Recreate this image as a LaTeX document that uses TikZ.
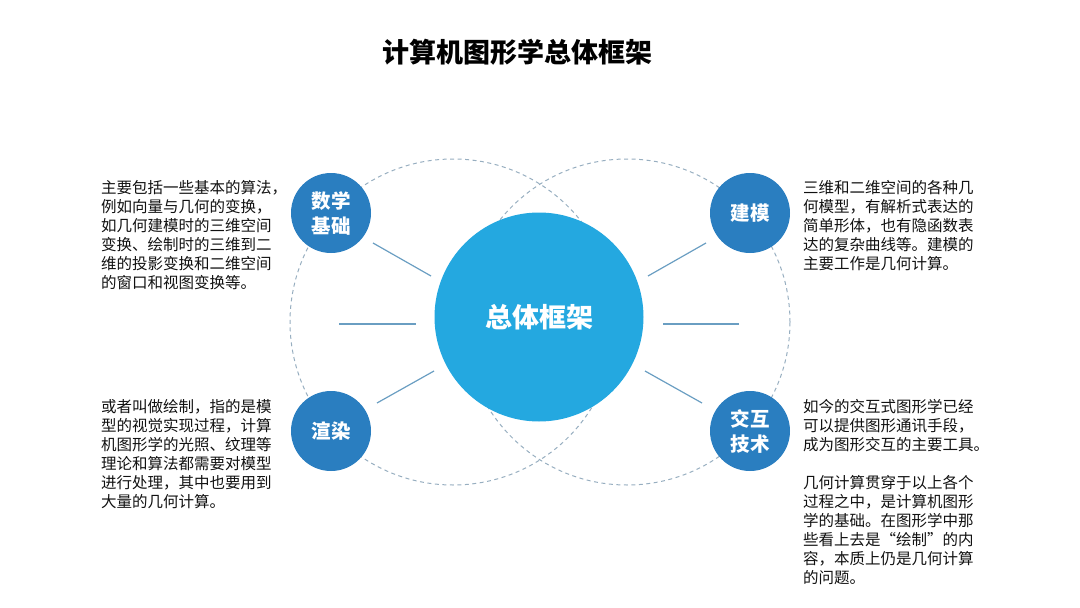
\documentclass[tikz,border=0pt]{standalone}
\usepackage{fontspec}
\setmainfont{Noto Sans CJK SC}
\usepackage{tikz}
\definecolor{hubblue}{HTML}{24A8E0}
\definecolor{topicblue}{HTML}{2A7EC0}
\definecolor{ringgray}{HTML}{97AEC0}
\definecolor{spokeblue}{HTML}{6A9EC2}
\definecolor{bodytext}{HTML}{111111}

\begin{document}
\begin{tikzpicture}[x=1pt, y=-1pt,
    hub/.style={circle, fill=hubblue, minimum size=209pt, inner sep=0pt,
      text=white, font=\fontsize{27}{32}\selectfont\bfseries},
    topic/.style={circle, fill=topicblue, minimum size=80pt, inner sep=0pt,
      text=white, align=center, font=\fontsize{19.5}{25}\selectfont\bfseries},
    ring/.style={ringgray, line width=1pt, dash pattern=on 4pt off 3.5pt},
    spoke/.style={spokeblue, line width=1.2pt},
    blurb/.style={anchor=north west, inner sep=0pt, align=left,
      text=bodytext, font=\fontsize{15.5}{19}\selectfont},
    heading/.style={font=\fontsize{27}{31}\selectfont\bfseries}]
    \useasboundingbox (0,0) rectangle (1080,608);

    \draw[ring] (453,322) circle (163pt);
    \draw[ring] (627,322) circle (163pt);

    \node[heading] (title) at (517,52) {计算机图形学总体框架};

    \node[hub] (hub) at (539,317) {总体框架};
    \node[topic] (math) at (331,213) {数学\\基础};
    \node[topic] (model) at (750,213) {建模};
    \node[topic] (render) at (331,431) {渲染};
    \node[topic] (interact) at (750,431) {交互\\技术};

    %spokes round the hub
    \coordinate (ulA) at (373,243);
    \coordinate (ulB) at (431,276);
    \coordinate (lA) at (339,324);
    \coordinate (lB) at (416,324);
    \coordinate (llA) at (377,403);
    \coordinate (llB) at (434,371);
    \coordinate (urA) at (706,243);
    \coordinate (urB) at (648,276);
    \coordinate (rA) at (739,324);
    \coordinate (rB) at (663,324);
    \coordinate (lrA) at (702,403);
    \coordinate (lrB) at (645,371);
    \draw[spoke] (ulA) -- (ulB);
    \draw[spoke] (lA) -- (lB);
    \draw[spoke] (llA) -- (llB);
    \draw[spoke] (urA) -- (urB);
    \draw[spoke] (rA) -- (rB);
    \draw[spoke] (lrA) -- (lrB);

    \node[blurb] (mathtext) at (101,180) {主要包括一些基本的算法，\\例如向量与几何的变换，\\如几何建模时的三维空间\\变换、绘制时的三维到二\\维的投影变换和二维空间\\的窗口和视图变换等。};
    \node[blurb] (modeltext) at (803,180) {三维和二维空间的各种几\\何模型，有解析式表达的\\简单形体，也有隐函数表\\达的复杂曲线等。建模的\\主要工作是几何计算。};
    \node[blurb] (rendertext) at (101,399) {或者叫做绘制，指的是模\\型的视觉实现过程，计算\\机图形学的光照、纹理等\\理论和算法都需要对模型\\进行处理，其中也要用到\\大量的几何计算。};
    \node[blurb] (interacttext) at (803,399) {如今的交互式图形学已经\\可以提供图形通讯手段，\\成为图形交互的主要工具。\\[19pt]几何计算贯穿于以上各个\\过程之中，是计算机图形\\学的基础。在图形学中那\\些看上去是“绘制”的内\\容，本质上仍是几何计算\\的问题。};
\end{tikzpicture}
\end{document}
